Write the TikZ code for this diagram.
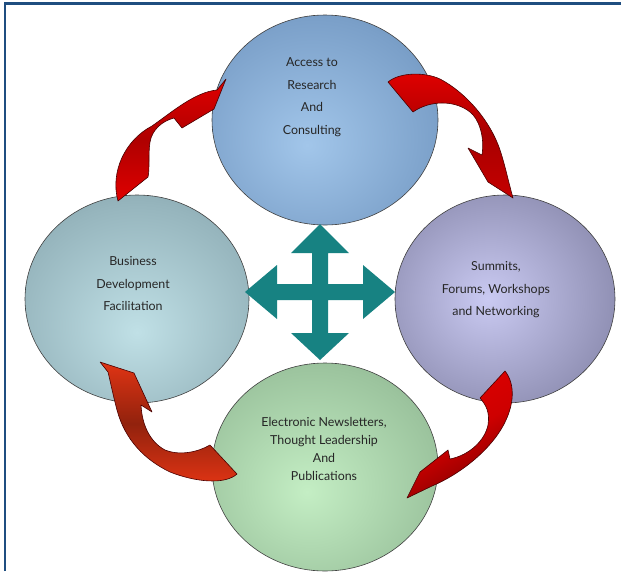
\documentclass[tikz,border=0pt]{standalone}
\usepackage{fontspec}
\setmainfont{Lato}
\usetikzlibrary{shapes.geometric}
\definecolor{frameblue}{HTML}{1F4E80}
\definecolor{teal}{HTML}{178282}
\definecolor{tIn}{HTML}{A2C6EA}\definecolor{tMid}{HTML}{7BA0C9}\definecolor{tOut}{HTML}{52789F}
\definecolor{lIn}{HTML}{C0E0E6}\definecolor{lMid}{HTML}{96B5BD}\definecolor{lOut}{HTML}{6A8790}
\definecolor{rIn}{HTML}{CACAF2}\definecolor{rMid}{HTML}{9090B4}\definecolor{rOut}{HTML}{5A5A76}
\definecolor{bIn}{HTML}{C4EEC4}\definecolor{bMid}{HTML}{9CC49E}\definecolor{bOut}{HTML}{739676}
\definecolor{arrRed}{HTML}{E00000}
\definecolor{arrDark}{HTML}{7A0000}
\definecolor{arrOrange}{HTML}{E03414}
\definecolor{arrEdge}{HTML}{4A0000}
\pgfdeclareradialshading{ballT}{\pgfpoint{-4bp}{-6bp}}{color(0bp)=(tIn); color(28bp)=(tMid); color(50bp)=(tOut); color(80bp)=(tOut)}
\pgfdeclareradialshading{ballL}{\pgfpoint{0bp}{-8bp}}{color(0bp)=(lIn); color(28bp)=(lMid); color(50bp)=(lOut); color(80bp)=(lOut)}
\pgfdeclareradialshading{ballR}{\pgfpoint{-4bp}{0bp}}{color(0bp)=(rIn); color(28bp)=(rMid); color(50bp)=(rOut); color(80bp)=(rOut)}
\pgfdeclareradialshading{ballB}{\pgfpoint{-4bp}{-6bp}}{color(0bp)=(bIn); color(28bp)=(bMid); color(50bp)=(bOut); color(80bp)=(bOut)}
\tikzset{
  bubble/.style={ellipse, draw=black!75, line width=0.6pt, minimum width=226pt, minimum height=210pt, inner sep=0pt},
  label text/.style={align=center, text=black!85, font=\fontsize{12.4}{22.5}\selectfont},
  redarrow/.style={draw=arrEdge, line width=0.6pt, line join=round},
}
\begin{document}
\begin{tikzpicture}[x=1pt,y=-1pt]
\useasboundingbox (0,0) rectangle (621,571);
\fill[white] (0,0) rectangle (621,571);
% frame
\draw[frameblue, line width=2.4pt] (5,571) -- (5,3.5) -- (621,3.5);
% bubbles
\node[bubble, shading=ballT] (access) at (325,120) {};
\node[bubble, shading=ballL, minimum width=224pt, minimum height=208pt] (business) at (137,299) {};
\node[bubble, shading=ballR, minimum width=220pt, minimum height=208pt] (summits) at (505,299) {};
\node[bubble, shading=ballB, minimum width=226pt, minimum height=208pt] (news) at (325,467) {};
% texts
\node[label text] (accessT) at (312,97) {Access to\\Research\\And\\Consulting};
\node[label text] (businessT) at (133,284) {Business\\Development\\Facilitation};
\node[label text] (summitsT) at (496,290) {Summits,\\Forums, Workshops\\and Networking};
\node[label text, font=\fontsize{12.4}{18}\selectfont] (newsT) at (324,449) {Electronic Newsletters,\\Thought Leadership\\And\\Publications};
% teal four-way arrow
\fill[teal] (320,224) -- (349,253) -- (328,253) -- (328,284) -- (363,284) -- (363,265) -- (395,292)
  -- (363,319) -- (363,300) -- (328,300) -- (328,333) -- (349,333) -- (320,360) -- (291,333)
  -- (312,333) -- (312,300) -- (277,300) -- (277,319) -- (245,292) -- (277,265) -- (277,284)
  -- (312,284) -- (312,253) -- (291,253) -- cycle;
% red arrow: business -> access
\shadedraw[redarrow, top color=arrRed, bottom color=arrRed, middle color=arrRed!78!black]
  (118,201) .. controls (110,172) and (125,140) .. (152,126)
  .. controls (172,112) and (195,92) .. (217,90) -- (226,79) -- (214,109) -- (182,128) -- (174,118)
  .. controls (162,121) and (152,130) .. (150,142)
  .. controls (148,155) and (150,168) .. (148,177) -- cycle;
% red arrow: access -> summits
\shadedraw[redarrow, top color=arrRed, bottom color=arrRed!88!black, middle color=arrRed!75!black]
  (388,82) .. controls (400,72) and (425,72) .. (440,79)
  .. controls (465,92) and (490,120) .. (500,150)
  .. controls (505,165) and (508,180) .. (513,198) -- (488,182) -- (468,148) -- (482,155)
  .. controls (485,135) and (478,118) .. (470,112)
  .. controls (455,100) and (430,100) .. (413,112) -- cycle;
% red arrow: summits -> news
\shadedraw[redarrow, top color=arrRed, bottom color=arrDark, middle color=arrRed!92!black, shading angle=30]
  (480,398) -- (505,371) .. controls (516,385) and (513,405) .. (506,420)
  .. controls (495,445) and (465,472) .. (432,486) -- (407,498) -- (420,472) -- (448,450) -- (450,459)
  .. controls (470,455) and (485,440) .. (488,425)
  .. controls (490,412) and (486,405) .. (480,398);
% red arrow: news -> business
\shadedraw[redarrow, top color=arrOrange, bottom color=arrOrange, middle color=arrOrange!65!black]
  (237,474) .. controls (225,485) and (195,482) .. (170,472)
  .. controls (145,460) and (125,440) .. (117,410)
  .. controls (113,395) and (110,380) .. (108,372) -- (100,362) -- (134,373) -- (152,412) -- (141,405)
  .. controls (142,425) and (150,442) .. (165,450)
  .. controls (180,456) and (198,452) .. (210,445) -- cycle;
\end{tikzpicture}
\end{document}
